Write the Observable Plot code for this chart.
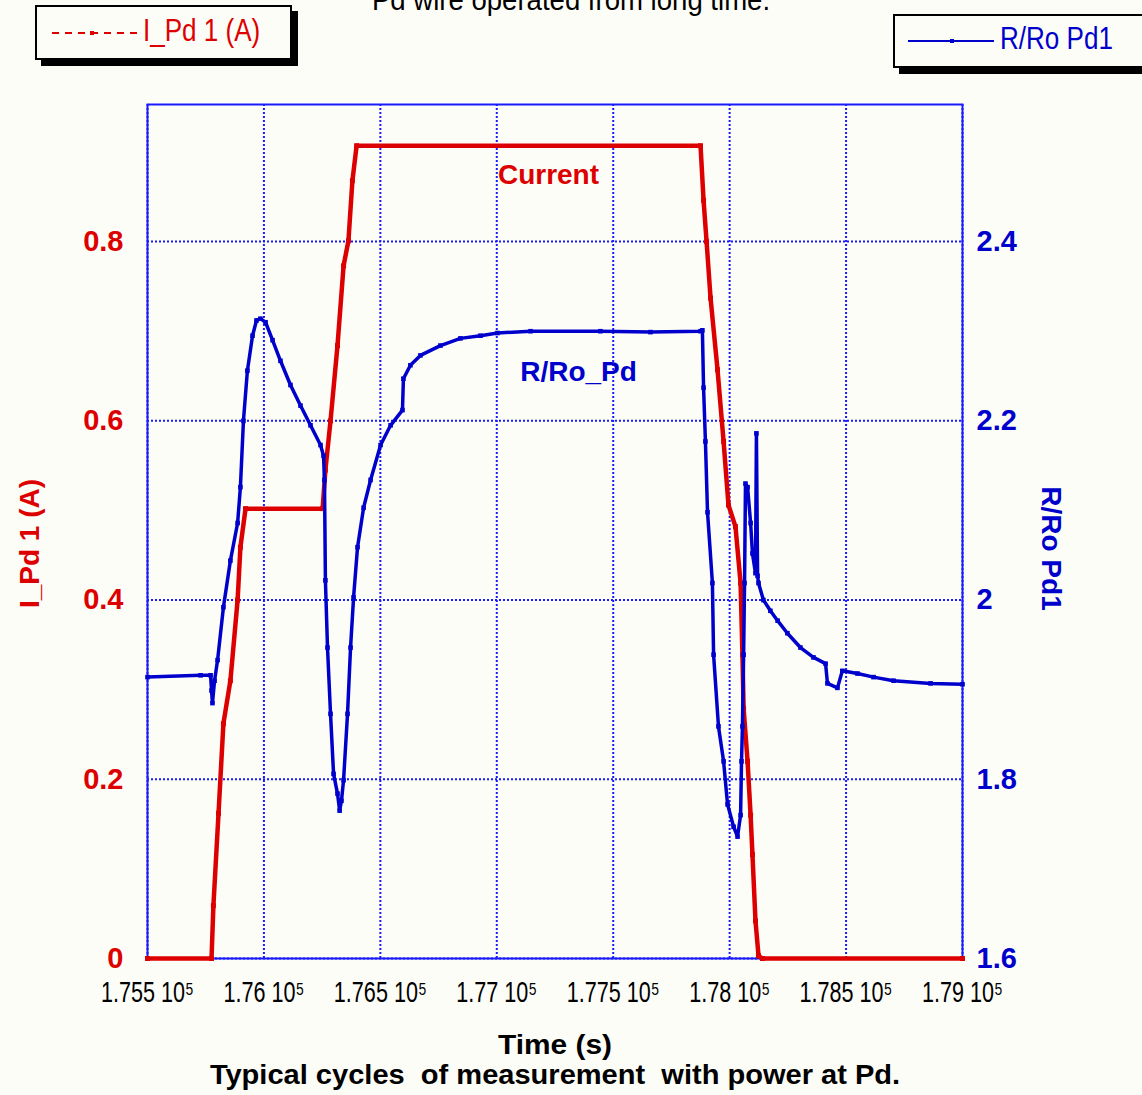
<!DOCTYPE html>
<html><head><meta charset="utf-8">
<script src="https://cdn.jsdelivr.net/npm/d3@7"></script>
<script src="https://cdn.jsdelivr.net/npm/@observablehq/plot@0.6"></script>
<style>
body{margin:0;background:#fdfdf8;}
#wrap{position:relative;width:1142px;height:1095px;overflow:hidden;background:#fdfdf8;}
#chart{position:absolute;left:0;top:0;}
.box{position:absolute;background:#fdfdf8;border:2px solid #000;box-shadow:6px 6px 0 #000;}
.ltxt{position:absolute;font-family:"Liberation Sans",Arial,sans-serif;font-size:31px;line-height:1;white-space:nowrap;transform-origin:0 50%;}
#title{position:absolute;top:-16px;left:0;width:1142px;text-align:center;font-family:"Liberation Sans",Arial,sans-serif;font-size:29px;color:#000;transform:scaleX(0.95);}
</style></head>
<body>
<div id="wrap">
  <div id="chart"></div>
  <div id="title">Pd wire operated from long time.</div>
  <div class="box" style="left:35px;top:5px;width:253px;height:51px;"></div>
  <svg style="position:absolute;left:50px;top:25px" width="92" height="16">
    <line x1="2" y1="8" x2="88" y2="8" stroke="#dd0000" stroke-width="2" stroke-dasharray="7,6"/>
    <rect x="40" y="6" width="4" height="4" fill="#dd0000"/>
  </svg>
  <div class="ltxt" style="left:143px;top:15px;color:#dd0000;transform:scaleX(0.84);">I_Pd 1 (A)</div>
  <div class="box" style="left:893px;top:14px;width:260px;height:50px;"></div>
  <svg style="position:absolute;left:906px;top:33px" width="92" height="16">
    <line x1="2" y1="8" x2="88" y2="8" stroke="#0000cc" stroke-width="2"/>
    <rect x="44" y="6" width="4" height="4" fill="#0000cc"/>
  </svg>
  <div class="ltxt" style="left:1000px;top:23px;color:#0000cc;transform:scaleX(0.84);">R/Ro Pd1</div>
</div>
<script>
// ---- data ----
const xTicks = [175500, 176000, 176500, 177000, 177500, 178000, 178500, 179000];
const leftTicks = [0, 0.2, 0.4, 0.6, 0.8];
const rightTicks = [1.6, 1.8, 2.0, 2.2, 2.4];
const R0 = 1.6; // right axis origin (same px per unit as the left axis)

const currentTime = [175500,175775,175783,175805,175826,175856,175887,175899,175921,176252,176264,176286,176316,176342,176363,176380,176398,177875,177888,177901,177918,177948,177974,177995,178025,178047,178055,178060,178077,178090,178098,178111,178124,178141,179000];
const currentAmps = [0,0,0.059,0.162,0.262,0.310,0.400,0.459,0.502,0.502,0.545,0.600,0.684,0.773,0.801,0.868,0.907,0.907,0.846,0.800,0.737,0.657,0.577,0.506,0.482,0.419,0.339,0.279,0.220,0.160,0.116,0.042,0.003,0,0];

const ratioTime = [175500,175728,175771,175775,175779,175788,175801,175826,175856,175887,175899,175912,175929,175951,175968,175985,176007,176037,176071,176114,176157,176200,176243,176256,176260,176264,176273,176286,176299,176316,176325,176333,176342,176359,176372,176385,176402,176428,176458,176501,176544,176595,176599,176629,176672,176758,176844,176930,177003,177145,177445,177660,177875,177883,177888,177896,177905,177926,177931,177952,177974,177991,178017,178034,178047,178051,178055,178060,178064,178068,178077,178090,178098,178111,178115,178120,178124,178145,178175,178206,178248,178304,178360,178412,178420,178463,178484,178549,178618,178704,178863,179000];
const ratioValues = [1.914,1.916,1.916,1.899,1.885,1.910,1.933,1.992,2.044,2.086,2.126,2.200,2.256,2.295,2.312,2.314,2.310,2.290,2.267,2.240,2.217,2.195,2.173,2.161,2.134,2.022,1.947,1.873,1.806,1.784,1.765,1.776,1.799,1.873,1.947,2.003,2.059,2.103,2.134,2.173,2.195,2.212,2.247,2.262,2.273,2.284,2.292,2.295,2.298,2.300,2.300,2.299,2.300,2.301,2.237,2.177,2.098,2.019,1.939,1.859,1.820,1.772,1.747,1.736,1.760,1.820,1.859,1.939,2.019,2.130,2.126,2.086,2.052,2.030,2.186,2.027,2.019,2.000,1.988,1.977,1.963,1.947,1.936,1.929,1.907,1.902,1.921,1.918,1.914,1.910,1.907,1.906];

const notes = [
  {t: 177222, v: 0.874, text: "Current", color: "red"},
  {t: 177351, v: 0.655, text: "R/Ro_Pd", color: "blue"}
];

// ---- drawing ----
const RED = "#dd0000", BLUE = "#0000cc", GRID = "#1a1aff";
const SANS = '"Liberation Sans",Arial,sans-serif';

const current = currentTime.map((t, i) => ({t, v: currentAmps[i]}));
const ratio = ratioTime.map((t, i) => ({t, r: ratioValues[i]}));

const chart = Plot.plot({
  width: 1142, height: 1095,
  marginTop: 104, marginLeft: 147, marginRight: 180, marginBottom: 137,
  style: {background: "transparent", fontFamily: SANS},
  x: {domain: [175500, 179000]},
  y: {domain: [0, 0.953]},
  marks: [
    Plot.gridX(xTicks, {stroke: GRID, strokeOpacity: 1, strokeWidth: 2, strokeDasharray: "2,2"}),
    Plot.gridY(leftTicks, {stroke: GRID, strokeOpacity: 1, strokeWidth: 2, strokeDasharray: "2,2"}),
    Plot.frame({stroke: GRID, strokeWidth: 2}),
    Plot.axisX(xTicks, {tickSize: 0, tickPadding: 22, label: null, fill: "#000",
      fontFamily: SANS, fontSize: 30,
      tickFormat: d => `${+(d / 1e5).toFixed(4)} 10\u2075`}),
    Plot.axisY(leftTicks, {anchor: "left", tickSize: 0, tickPadding: 24, label: null, fill: RED,
      fontFamily: SANS, fontSize: 29, fontWeight: "bold", tickFormat: d => String(d)}),
    Plot.axisY(rightTicks.map(v => v - R0), {anchor: "right", tickSize: 0, tickPadding: 14, label: null, fill: BLUE,
      fontFamily: SANS, fontSize: 29, fontWeight: "bold", tickFormat: d => String(+(d + R0).toFixed(1))}),
    Plot.line(current, {x: "t", y: "v", stroke: RED, strokeWidth: 4.5}),
    Plot.dot(current, {x: "t", y: "v", fill: RED, r: 2.8, symbol: "square"}),
    Plot.line(ratio, {x: "t", y: d => d.r - R0, stroke: BLUE, strokeWidth: 3.5}),
    Plot.dot(ratio, {x: "t", y: d => d.r - R0, fill: BLUE, r: 2.6, symbol: "square"}),
    Plot.text(notes, {x: "t", y: "v", text: "text", fill: d => d.color === "red" ? RED : BLUE,
      fontFamily: SANS, fontSize: 28, fontWeight: "bold"}),
    Plot.text(["Time (s)"], {frameAnchor: "bottom", dy: 87, lineAnchor: "middle", textAnchor: "middle", fill: "#000",
      fontFamily: SANS, fontSize: 28, fontWeight: "bold", className: "narrow-114"}),
    Plot.text(["Typical cycles  of measurement  with power at Pd."], {frameAnchor: "bottom", dy: 117, lineAnchor: "middle", textAnchor: "middle",
      fill: "#000", fontFamily: SANS, fontSize: 28, fontWeight: "bold", className: "narrow-691"}),
    Plot.text(["I_Pd 1 (A)"], {frameAnchor: "left", dx: -117, dy: 12, rotate: -90, textAnchor: "middle", lineAnchor: "middle",
      fill: RED, fontFamily: SANS, fontSize: 28, fontWeight: "bold"}),
    Plot.text(["R/Ro Pd1"], {frameAnchor: "right", dx: 88, dy: 17, rotate: 90, textAnchor: "middle", lineAnchor: "middle",
      fill: BLUE, fontFamily: SANS, fontSize: 28, fontWeight: "bold"})
  ]
});
document.getElementById("chart").appendChild(chart);

// narrow (condensed) look of the original's Helvetica-Narrow texts
d3.select(chart).selectAll('g[aria-label="x-axis tick label"] text').each(function () {
  const t = this.getAttribute("transform") || "";
  this.setAttribute("transform", t + " scale(0.72,1)");
});
for (const [cls, target] of [["narrow-114", 114], ["narrow-691", 691]]) {
  d3.select(chart).selectAll(`g.${cls} text`).each(function () {
    const w = this.getComputedTextLength();
    const t = this.getAttribute("transform") || "";
    this.setAttribute("transform", t + ` scale(${(target / w).toFixed(3)},1)`);
  });
}
</script>
</body></html>
